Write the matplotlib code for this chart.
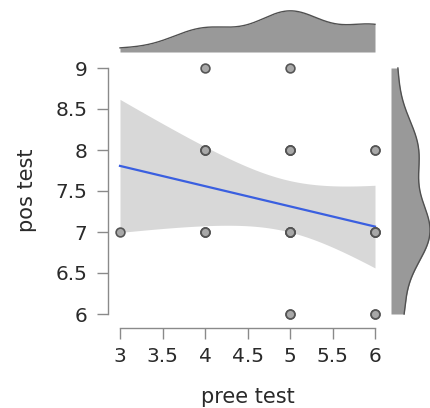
import math
import numpy as np
import matplotlib
matplotlib.use("Agg")
import matplotlib.pyplot as plt

# ---- data (duplicates overlap) ----
pree_test = [3,
             4, 4, 4, 4, 4, 4, 4,
             5, 5, 5, 5, 5, 5, 5, 5, 5, 5, 5, 5,
             6, 6, 6, 6, 6, 6, 6, 6]
pos_test = [7,
            9, 8, 8, 8, 7, 7, 7,
            9, 8, 8, 8, 8, 7, 7, 7, 7, 7, 6, 6,
            8, 8, 7, 7, 7, 7, 6, 6]
x_ticks = [3, 3.5, 4, 4.5, 5, 5.5, 6]
y_ticks = [6, 6.5, 7, 7.5, 8, 8.5, 9]
x_tick_labels = ["3", "3.5", "4", "4.5", "5", "5.5", "6"]
y_tick_labels = ["6", "6.5", "7", "7.5", "8", "8.5", "9"]
x_label = "pree test"
y_label = "pos test"

plt.rcParams['font.family'] = ['DejaVu Sans']

x = np.asarray(pree_test, float)
y = np.asarray(pos_test, float)
n = len(x)

# ---- linear fit with 95% CI ----
def t_pdf(t, df):
    c = math.gamma((df + 1) / 2) / (math.sqrt(df * math.pi) * math.gamma(df / 2))
    return c * (1 + t * t / df) ** (-(df + 1) / 2)

def t_crit(df, p=0.975):
    lo, hi = 0.0, 10.0
    for _ in range(60):
        mid = (lo + hi) / 2
        g = np.linspace(0, mid, 2001)
        cdf = 0.5 + np.trapezoid(t_pdf(g, df), g)
        if cdf < p:
            lo = mid
        else:
            hi = mid
    return (lo + hi) / 2

xm, ym = x.mean(), y.mean()
sxx = np.sum((x - xm) ** 2)
b1 = np.sum((x - xm) * (y - ym)) / sxx
b0 = ym - b1 * xm
res = y - (b0 + b1 * x)
s = math.sqrt(np.sum(res ** 2) / (n - 2))
tc = t_crit(n - 2)
xs = np.linspace(x.min(), x.max(), 200)
fit = b0 + b1 * xs
half = tc * s * np.sqrt(1 / n + (xs - xm) ** 2 / sxx)

# ---- kde (gaussian) ----
def kde(data, grid, bw):
    d = (grid[:, None] - data[None, :]) / bw
    return np.exp(-0.5 * d ** 2).sum(axis=1) / (len(data) * bw * math.sqrt(2 * math.pi))

W, H = 430, 408
fig = plt.figure(figsize=(W / 100, H / 100), dpi=100)

def box(l, t, r, b):
    return [l / W, 1 - b / H, (r - l) / W, (b - t) / H]

ax = fig.add_axes(box(108, 60, 385, 328))
xlim = (3 - 12 / 85, 3 + (385 - 120) / 85)
ylim = (6 - 14 / 82, 9 + 8 / 82)

txt = "#2a2a2a"
ax.fill_between(xs, fit - half, fit + half, color="#d8d8d8", lw=0, zorder=1)
ax.plot(xs, fit, color="#3a5fe0", lw=1.6, zorder=2)
ax.scatter(x, y, s=40, facecolor="#a8a8a8", edgecolor="#555555", linewidths=1.2, zorder=3,
           clip_on=False)
ax.set_xlim(*xlim)
ax.set_ylim(*ylim)
ax.set_xticks(x_ticks)
ax.set_xticklabels(x_tick_labels)
ax.set_yticks(y_ticks)
ax.set_yticklabels(y_tick_labels)
for sp in ["top", "right"]:
    ax.spines[sp].set_visible(False)
ax.spines["left"].set_bounds(min(y_ticks), max(y_ticks))
ax.spines["bottom"].set_bounds(min(x_ticks), max(x_ticks))
for sp in ["left", "bottom"]:
    ax.spines[sp].set_color("#8a8a8a")
    ax.spines[sp].set_linewidth(1.0)
ax.tick_params(direction="out", length=8, width=1.0, color="#8a8a8a",
               labelsize=14.5, labelcolor=txt)
ax.tick_params(axis="y", pad=7)
ax.tick_params(axis="x", pad=6)

fig.text(248 / W, 1 - 403 / H, x_label, ha="center", va="baseline",
         fontsize=15, color=txt)
fig.text(27 / W, 1 - 190 / H, y_label, ha="center", va="center", rotation=90,
         fontsize=15, color=txt)

# top density
axt = fig.add_axes(box(108, 10, 385, 52))
gx = np.linspace(x.min(), x.max(), 300)
dx = kde(x, gx, 0.39)
axt.fill_between(gx, 0, dx, color="#999999", lw=0)
axt.plot(gx, dx, color="#505050", lw=1.0)
axt.set_xlim(*xlim)
axt.set_ylim(0, dx.max() * 1.02)
axt.axis("off")

# right density
axr = fig.add_axes(box(391, 60, 432, 328))
gy = np.linspace(y.min(), y.max(), 300)
dy = kde(y, gy, 0.40)
axr.fill_betweenx(gy, 0, dy, color="#999999", lw=0)
axr.plot(dy, gy, color="#505050", lw=1.0)
axr.set_ylim(*ylim)
axr.set_xlim(0, dy.max() * 1.05)
axr.axis("off")

fig.savefig("out.png", dpi=100)
